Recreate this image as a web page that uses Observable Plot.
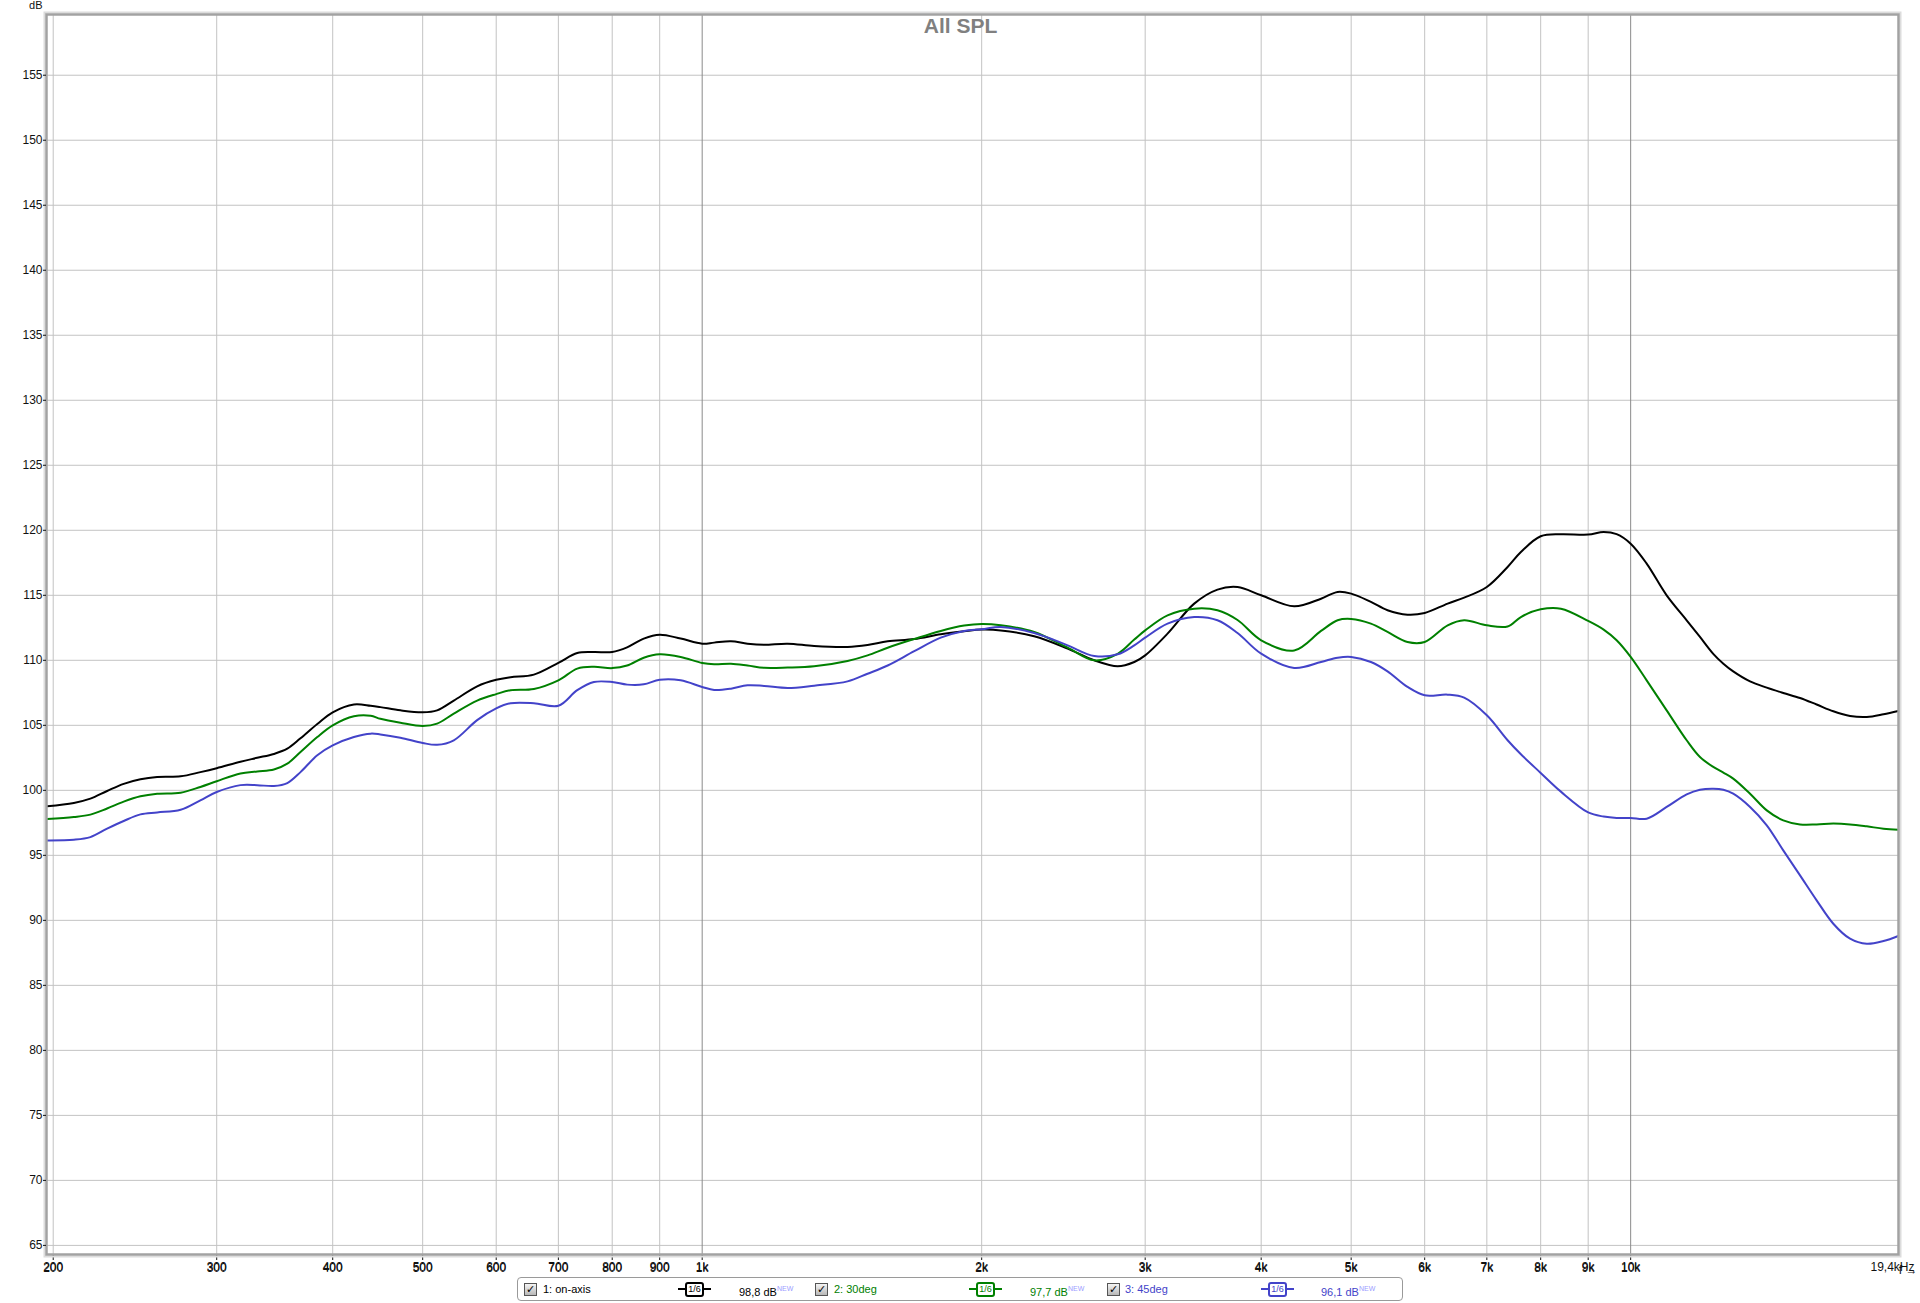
<!DOCTYPE html>
<html><head><meta charset="utf-8">
<script src="https://cdn.jsdelivr.net/npm/d3@7"></script>
<script src="https://cdn.jsdelivr.net/npm/@observablehq/plot@0.6"></script>
<style>
body{margin:0;background:#fff;font-family:"Liberation Sans",Arial,sans-serif;}
#wrap{position:relative;width:1920px;height:1303px;overflow:hidden;}
#chart svg{display:block;}
#legend{position:absolute;left:517px;top:1277px;width:884px;height:22px;border:1px solid #9a9a9a;border-radius:4px;background:#fff;font-size:11px;}
#legend .it{position:absolute;top:0;height:22px;line-height:22px;white-space:nowrap;}
#legend .cb{position:absolute;top:5px;width:11px;height:11px;border:1px solid #555;background:linear-gradient(#f4f4f4,#b8b8b8);font-size:11px;line-height:11px;text-align:center;font-weight:bold;color:#000;font-family:"DejaVu Sans",sans-serif;}
#legend .ic{position:absolute;top:4px;width:33px;height:14px;}
#legend .ic .ln{position:absolute;left:0;right:0;top:6px;height:2px;}
#legend .ic .bx{position:absolute;left:7px;top:0;width:15px;height:11px;border:2px solid;border-radius:3px;background:#fff;font-size:9px;line-height:11px;text-align:center;}
#legend sup{font-size:7px;color:#9c9cff;vertical-align:5px;}
</style></head><body>
<div id="wrap"><div id="chart"></div><div id="legend"></div></div>
<script>
const freqs = [197,210.5,219.3,228.6,238.2,248.3,258.8,274.3,288.1,300,318.2,331.7,345.7,357.4,369.3,385,400,421.6,439.5,450.2,473.1,500,518.2,540.1,572.3,600,621.8,658.8,700,733.6,764.5,800,830.1,865.1,900,948,1000,1030,1074,1119,1166,1236,1320,1434,1507,1584,1692,1807,1915,2000,2097,2278,2475,2644,2802,2920,3000,3171,3388,3589,3772,4000,4341,4640,4835,5000,5251,5472,5750,6000,6352,6617,7000,7370,7617,8000,8411,9000,9352,9658,10000,10405,10934,11490,11875,12273,12585,12896,13446,14015,14600,15220,15860,16530,17230,17960,18720,19420];

const onAxis = [98.77,99.03,99.36,99.95,100.5,100.85,101.03,101.08,101.4,101.7,102.2,102.5,102.8,103.2,104.0,105.1,106.0,106.6,106.5,106.4,106.15,106.0,106.15,106.9,108.0,108.5,108.7,108.9,109.8,110.56,110.64,110.64,111.0,111.67,111.97,111.67,111.28,111.36,111.46,111.28,111.2,111.28,111.1,111.03,111.18,111.46,111.64,112.0,112.23,112.36,112.3,111.85,110.9,110.0,109.54,109.87,110.38,112.05,114.36,115.44,115.64,115.0,114.15,114.74,115.26,115.13,114.49,113.85,113.51,113.64,114.36,114.82,115.64,117.18,118.33,119.54,119.7,119.67,119.87,119.7,118.97,117.44,115.0,113.08,111.8,110.5,109.74,109.15,108.38,107.9,107.49,107.1,106.6,106.08,105.72,105.64,105.85,106.1];

const deg30 = [97.8,97.95,98.13,98.6,99.13,99.54,99.74,99.82,100.26,100.7,101.3,101.45,101.6,102.05,102.95,104.1,105.0,105.7,105.74,105.5,105.2,104.95,105.13,105.9,106.9,107.4,107.7,107.8,108.46,109.36,109.5,109.4,109.6,110.2,110.46,110.26,109.8,109.7,109.74,109.6,109.42,109.44,109.54,109.95,110.38,110.97,111.64,112.26,112.67,112.8,112.7,112.18,110.97,110.0,110.5,111.6,112.3,113.46,113.97,113.85,113.1,111.54,110.75,112.26,113.08,113.18,112.82,112.18,111.41,111.41,112.69,113.08,112.69,112.6,113.33,113.92,113.97,113.03,112.36,111.54,110.26,108.46,106.15,103.85,102.56,101.8,101.36,100.9,99.74,98.46,97.69,97.38,97.38,97.44,97.38,97.23,97.05,96.97];

const deg45 = [96.15,96.2,96.4,97.05,97.64,98.15,98.3,98.5,99.23,99.87,100.4,100.4,100.33,100.56,101.4,102.7,103.46,104.1,104.36,104.3,104.05,103.64,103.5,103.85,105.4,106.3,106.7,106.7,106.5,107.7,108.33,108.33,108.13,108.15,108.5,108.46,107.95,107.72,107.82,108.08,108.03,107.87,108.05,108.38,108.97,109.6,110.7,111.74,112.26,112.38,112.56,112.1,111.15,110.33,110.46,111.15,111.74,112.82,113.33,113.08,112.1,110.51,109.41,109.87,110.2,110.26,109.87,109.15,107.95,107.31,107.36,107.13,105.77,103.85,102.77,101.34,99.9,98.3,97.98,97.87,97.87,97.82,98.72,99.69,100.05,100.13,100.05,99.74,98.72,97.31,95.38,93.46,91.54,89.74,88.59,88.2,88.41,88.8];

const seriesNames = ["1: on-axis","2: 30deg","3: 45deg"];
const seriesColors = ["#000000","#008000","#4343c9"];
const seriesLevels = ["98,8 dB","97,7 dB","96,1 dB"];
const smoothingLabel = "1/6";

const gridFreqs = [200,300,400,500,600,700,800,900,1000,2000,3000,4000,5000,6000,7000,8000,9000,10000];
const freqTickLabels = ["200","300","400","500","600","700","800","900","1k","2k","3k","4k","5k","6k","7k","8k","9k","10k"];
const majorFreqs = [1000,10000];
const endFreq = [19430];
const endFreqLabel = "19,4kHz";
const dbTicks = [65,70,75,80,85,90,95,100,105,110,115,120,125,130,135,140,145,150,155];
const title = "All SPL";
const yUnit = "dB";

const seriesValues = [onAxis, deg30, deg45];
const rows = [];
seriesValues.forEach((vals, si) => vals.forEach((v, i) => rows.push({f: freqs[i], db: v, s: seriesNames[si]})));

const minorFreqs = gridFreqs.filter(f => !majorFreqs.includes(f));

const chart = Plot.plot({
  width: 1920,
  height: 1276,
  marginTop: 14,
  marginBottom: 22,
  marginLeft: 46,
  marginRight: 22,
  style: {fontFamily: '"Liberation Sans", Arial, sans-serif', fontSize: "12px", color: "#111", background: "#fff"},
  x: {type: "log", domain: [196.7, 19430]},
  y: {domain: [64.3, 159.67]},
  color: {domain: seriesNames, range: seriesColors},
  marks: [
    Plot.ruleY(dbTicks, {stroke: "#c3c3c3", strokeWidth: 1}),
    Plot.ruleX(minorFreqs, {stroke: "#c3c3c3", strokeWidth: 1}),
    Plot.ruleX(majorFreqs, {stroke: "#8a8a8a", strokeWidth: 1}),
    ...seriesNames.map(name => Plot.line(rows.filter(r => r.s === name), {x: "f", y: "db", stroke: "s", strokeWidth: 2, curve: "catmull-rom"})),
    Plot.frame({stroke: "#dcdcdc", strokeWidth: 2, inset: -2}),
    Plot.frame({stroke: "#a2a2a2", strokeWidth: 2.5}),
    Plot.axisY({ticks: dbTicks, tickSize: 3, tickPadding: 1, label: null, fontSize: 12}),
    Plot.text(gridFreqs, {x: d => d, frameAnchor: "bottom", text: (d, i) => freqTickLabels[i], lineAnchor: "middle", dy: 13, fontSize: 12, fill: "#111"}),
    Plot.text(endFreq, {x: d => d, frameAnchor: "bottom", text: () => endFreqLabel, textAnchor: "end", lineAnchor: "middle", dx: 16, dy: 13, fontSize: 12, fill: "#111"}),
    Plot.text([title], {frameAnchor: "top", text: d => d, dx: -12, dy: 12, lineAnchor: "middle", fontSize: 21, fontWeight: "bold", fill: "#808080"}),
    Plot.text([yUnit], {frameAnchor: "top-left", text: d => d, textAnchor: "end", lineAnchor: "middle", dx: -4, dy: -9, fontSize: 11, fill: "#111"})
  ]
});
document.getElementById("chart").appendChild(chart);

// legend
const legend = document.getElementById("legend");
const layout = [{cb: 6, t: 25, ic: 160, v: 221}, {cb: 297, t: 316, ic: 451, v: 512}, {cb: 589, t: 607, ic: 743, v: 803}];
seriesNames.forEach((name, i) => {
  const L = layout[i], col = seriesColors[i];
  const cb = document.createElement("div"); cb.className = "cb"; cb.style.left = L.cb + "px"; cb.textContent = "\u2713"; legend.appendChild(cb);
  const t = document.createElement("div"); t.className = "it"; t.style.left = L.t + "px"; t.style.color = col; t.textContent = name; legend.appendChild(t);
  const ic = document.createElement("div"); ic.className = "ic"; ic.style.left = L.ic + "px";
  const ln = document.createElement("div"); ln.className = "ln"; ln.style.background = col; ic.appendChild(ln);
  const bx = document.createElement("div"); bx.className = "bx"; bx.style.borderColor = col; bx.style.color = col; bx.textContent = smoothingLabel; ic.appendChild(bx);
  legend.appendChild(ic);
  const v = document.createElement("div"); v.className = "it"; v.style.left = L.v + "px"; v.style.color = col;
  v.textContent = seriesLevels[i]; const sup = document.createElement("sup"); sup.textContent = "NEW"; v.appendChild(sup);
  legend.appendChild(v);
});
</script>
</body></html>
